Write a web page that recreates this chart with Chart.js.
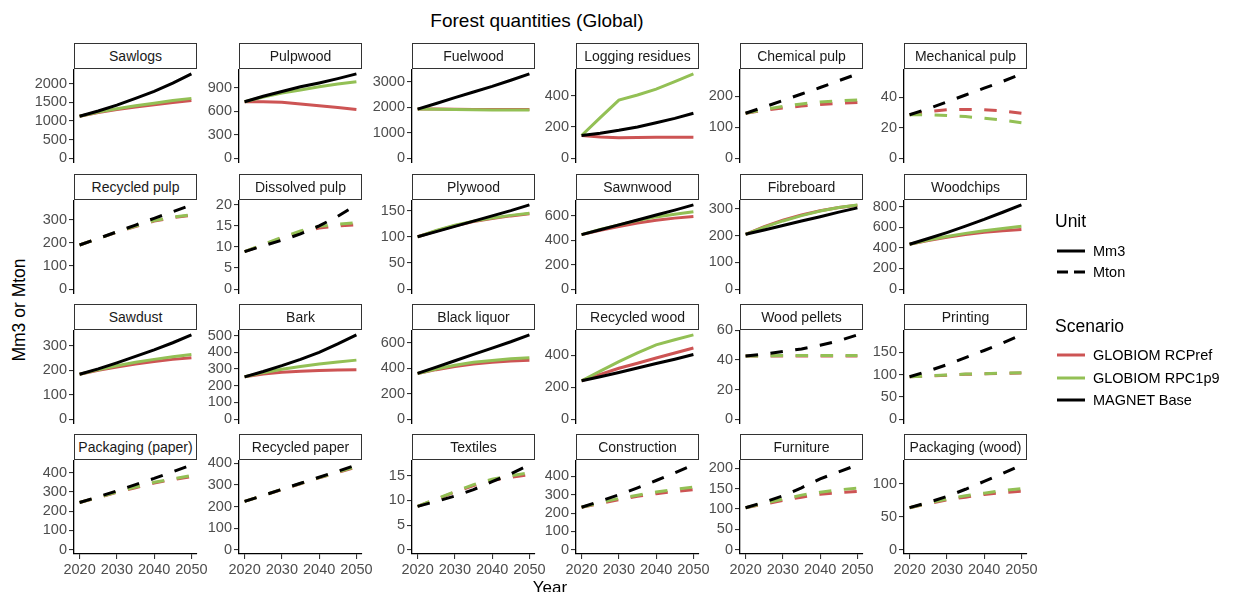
<!DOCTYPE html>
<html>
<head>
<meta charset="utf-8">
<script src="https://cdn.jsdelivr.net/npm/chart.js@4.4.1/dist/chart.umd.min.js"></script>
<style>
  html, body { margin: 0; padding: 0; background: #fff; }
  body { width: 1236px; height: 592px; overflow: hidden; position: relative;
         font-family: "Liberation Sans", Arial, sans-serif; }
  canvas.panel { position: absolute; }
  .strip { position: absolute; box-sizing: border-box; border: 1.3px solid #333; background: #fff;
           font-size: 14px; color: #1a1a1a; text-align: center; white-space: nowrap; z-index: 2; }
  .txt { position: absolute; line-height: 1; white-space: nowrap; color: #000; }
  svg.key { position: absolute; }
</style>
</head>
<body>
<script>
// ---- data -------------------------------------------------------------
const years = [2020, 2025, 2030, 2035, 2040, 2045, 2050];
const xTicks = [2020, 2030, 2040, 2050];

const products = [
  "Sawlogs", "Pulpwood", "Fuelwood", "Logging residues", "Chemical pulp", "Mechanical pulp",
  "Recycled pulp", "Dissolved pulp", "Plywood", "Sawnwood", "Fibreboard", "Woodchips",
  "Sawdust", "Bark", "Black liquor", "Recycled wood", "Wood pellets", "Printing",
  "Packaging (paper)", "Recycled paper", "Textiles", "Construction", "Furniture", "Packaging (wood)"
];

const units = [
  "Mm3", "Mm3", "Mm3", "Mm3", "Mton", "Mton",
  "Mton", "Mton", "Mm3", "Mm3", "Mm3", "Mm3",
  "Mm3", "Mm3", "Mm3", "Mm3", "Mton", "Mton",
  "Mton", "Mton", "Mton", "Mton", "Mton", "Mton"
];

const yTicks = [
  [0, 500, 1000, 1500, 2000], [0, 300, 600, 900], [0, 1000, 2000, 3000], [0, 200, 400], [0, 100, 200], [0, 20, 40],
  [0, 100, 200, 300], [0, 5, 10, 15, 20], [0, 50, 100, 150], [0, 200, 400, 600], [0, 100, 200, 300], [0, 200, 400, 600, 800],
  [0, 100, 200, 300], [0, 100, 200, 300, 400, 500], [0, 200, 400, 600], [0, 200, 400], [0, 20, 40, 60], [0, 50, 100, 150],
  [0, 100, 200, 300, 400], [0, 100, 200, 300, 400], [0, 5, 10, 15], [0, 100, 200, 300, 400], [0, 50, 100, 150, 200], [0, 50, 100]
];

const globiomRCPref = [
  [1130, 1230, 1310, 1380, 1440, 1500, 1550],
  [720, 720, 712, 690, 668, 645, 620],
  [1920, 1920, 1915, 1905, 1900, 1900, 1905],
  [145, 136, 130, 132, 134, 134, 133],
  [145, 154, 162, 168, 173, 177, 180],
  [28.5, 30.5, 31.8, 32, 31.8, 31, 29.5],
  [190, 218, 245, 270, 293, 308, 318],
  [8.9, 10.5, 12.1, 13.5, 14.5, 15.0, 15.3],
  [100, 111, 121, 129, 135, 140, 144],
  [445, 480, 512, 540, 562, 580, 594],
  [205, 234, 258, 277, 293, 305, 314],
  [435, 470, 502, 528, 550, 565, 578],
  [183, 199, 213, 225, 235, 244, 251],
  [253, 270, 280, 287, 291, 294, 296],
  [360, 390, 415, 435, 448, 458, 465],
  [240, 280, 318, 350, 382, 414, 445],
  [42.7, 42.7, 42.8, 42.8, 42.8, 42.8, 42.8],
  [95, 96.5, 98.5, 100.5, 101.5, 102.5, 103.5],
  [245, 271, 298, 322, 346, 364, 380],
  [224, 251, 279, 306, 333, 358, 383],
  [8.8, 10.2, 11.7, 13.0, 14.1, 14.7, 15.2],
  [232, 253, 274, 292, 306, 318, 328],
  [103, 112, 121, 129, 136, 140, 143],
  [64, 70, 76, 80, 84, 87, 89]
];

const globiomRPC1p9 = [
  [1130, 1240, 1330, 1410, 1480, 1550, 1610],
  [720, 780, 830, 870, 910, 945, 975],
  [1920, 1915, 1905, 1895, 1890, 1890, 1890],
  [145, 260, 372, 405, 442, 490, 540],
  [145, 157, 167, 175, 181, 185, 188],
  [28.5, 28.5, 28, 27.3, 26.3, 25, 23.3],
  [190, 218, 246, 272, 296, 310, 321],
  [8.9, 10.6, 12.3, 13.8, 14.9, 15.4, 15.8],
  [100, 112, 122, 130, 136, 141, 145],
  [445, 488, 525, 560, 590, 612, 632],
  [205, 232, 255, 275, 292, 305, 315],
  [435, 475, 510, 540, 565, 588, 609],
  [183, 202, 218, 232, 244, 255, 264],
  [253, 278, 298, 315, 330, 342, 353],
  [360, 395, 425, 448, 463, 475, 483],
  [240, 300, 360, 415, 465, 497, 527],
  [42.7, 42.8, 43, 43, 43, 43, 43],
  [95, 97, 99, 101, 102, 103, 104],
  [245, 272, 300, 325, 350, 368, 385],
  [224, 252, 280, 307, 334, 360, 386],
  [8.8, 10.3, 11.8, 13.2, 14.3, 15.0, 15.6],
  [232, 257, 280, 298, 315, 330, 342],
  [103, 114, 124, 134, 141, 147, 151],
  [64, 71, 77, 82, 86, 90, 93]
];

const magnetBase = [
  [1130, 1270, 1430, 1610, 1800, 2020, 2270],
  [720, 790, 850, 910, 960, 1015, 1075],
  [1920, 2140, 2370, 2590, 2810, 3050, 3300],
  [145, 160, 178, 200, 227, 255, 288],
  [145, 165, 186, 207, 228, 250, 272],
  [28.5, 32.5, 37, 41.5, 46, 50.5, 55.4],
  [190, 218, 247, 276, 305, 334, 363],
  [8.9, 10.3, 11.6, 13.1, 15.0, 17.3, 20.0],
  [100, 110, 120, 130, 140, 150, 161],
  [445, 485, 525, 565, 605, 645, 688],
  [205, 221, 238, 255, 271, 288, 304],
  [435, 490, 548, 610, 675, 745, 816],
  [183, 205, 230, 256, 283, 312, 344],
  [253, 285, 320, 358, 400, 450, 504],
  [360, 410, 460, 510, 560, 610, 664],
  [240, 265, 292, 320, 348, 375, 404],
  [42.7, 44, 45.7, 47.5, 50, 53, 57],
  [95, 108, 122, 138, 154, 171, 189],
  [245, 275, 305, 338, 370, 405, 440],
  [224, 252, 280, 308, 336, 364, 393],
  [8.8, 9.8, 10.9, 12.2, 13.8, 15.4, 17.2],
  [232, 265, 300, 338, 378, 420, 463],
  [103, 117, 132, 152, 174, 191, 208],
  [64, 72, 81, 92, 104, 116, 129]
];

const scenarioNames = ["GLOBIOM RCPref", "GLOBIOM RPC1p9", "MAGNET Base"];
const unitNames = ["Mm3", "Mton"];

// ---- styling ------------------------------------------------------------
const COL_RED = "#cd5454";
const COL_GREEN = "#93c055";
const COL_BLACK = "#000000";
const LINE_W = 3;
const DASH = [12.5, 12.5];
const FONT = "'Liberation Sans', Arial, sans-serif";
const AXIS_TEXT = "#4d4d4d";
const TICK_SIZE = 14.5;

// facet grid geometry
const colLeft = [74, 239, 412, 576, 740, 904];
const stripTop = [43, 174, 304, 434];
const PLOT_W = 123, PLOT_H = 94, STRIP_H = 26;
const PAD_L = 44, PAD_T = 10, PAD_R = 22;

function addText(str, x, y, size, opts = {}) {
  const d = document.createElement("div");
  d.className = "txt";
  d.textContent = str;
  d.style.fontSize = size + "px";
  d.style.left = x + "px";
  d.style.top = y + "px";
  d.style.transform = opts.transform || "translateY(-50%)";
  if (opts.color) d.style.color = opts.color;
  document.body.appendChild(d);
  return d;
}

function panel(i) {
  const r = Math.floor(i / 6), c = i % 6;
  const bottomRow = r === 3;
  const plotTop = stripTop[r] + STRIP_H;
  const axisH = bottomRow ? 30 : 0;
  const padB = bottomRow ? 0 : 10;

  const cv = document.createElement("canvas");
  cv.className = "panel";
  const w = PAD_L + PLOT_W + PAD_R, h = PAD_T + PLOT_H + axisH + padB;
  cv.width = w; cv.height = h;
  cv.style.width = w + "px"; cv.style.height = h + "px";
  cv.style.left = (colLeft[c] - PAD_L) + "px";
  cv.style.top = (plotTop - PAD_T) + "px";
  document.body.appendChild(cv);

  const strip = document.createElement("div");
  strip.className = "strip";
  strip.style.left = colLeft[c] + "px";
  strip.style.top = stripTop[r] + "px";
  strip.style.width = PLOT_W + "px";
  strip.style.height = STRIP_H + "px";
  strip.style.lineHeight = (STRIP_H - 2) + "px";
  strip.textContent = products[i];
  document.body.appendChild(strip);

  const dashed = units[i] === "Mton";
  const series = [
    { vals: magnetBase[i], color: COL_BLACK, order: 0 },
    { vals: globiomRPC1p9[i], color: COL_GREEN, order: 1 },
    { vals: globiomRCPref[i], color: COL_RED, order: 2 }
  ];
  const top = Math.max(...magnetBase[i], ...globiomRPC1p9[i], ...globiomRCPref[i]);
  const span = top - 0;

  new Chart(cv, {
    type: "line",
    data: {
      datasets: series.map(s => ({
        data: years.map((yr, k) => ({ x: yr, y: s.vals[k] })),
        borderColor: s.color,
        borderWidth: LINE_W,
        borderDash: dashed ? DASH : [],
        pointRadius: 0,
        tension: 0,
        fill: false,
        order: s.order
      }))
    },
    options: {
      responsive: false,
      animation: false,
      devicePixelRatio: 1,
      layout: { padding: { top: PAD_T, right: PAD_R, bottom: padB, left: 0 } },
      plugins: { legend: { display: false }, tooltip: { enabled: false }, title: { display: false } },
      scales: {
        x: {
          type: "linear",
          display: bottomRow,
          min: 2020 - 1.5,
          max: 2050 + 1.5,
          afterBuildTicks: s => { s.ticks = xTicks.map(v => ({ value: v })); },
          afterFit: s => { s.height = axisH; },
          ticks: { callback: v => String(v), color: AXIS_TEXT, font: { family: FONT, size: TICK_SIZE }, padding: 2, maxRotation: 0, autoSkip: false },
          grid: { drawOnChartArea: false, drawTicks: true, tickLength: 5, color: "#333", lineWidth: 1.1 },
          border: { display: true, color: "#000", width: 1.3 }
        },
        y: {
          type: "linear",
          min: -0.05 * span,
          max: top + 0.05 * span,
          afterBuildTicks: s => { s.ticks = yTicks[i].map(v => ({ value: v })); },
          afterFit: s => { s.width = PAD_L; },
          ticks: { callback: v => String(v), color: AXIS_TEXT, font: { family: FONT, size: TICK_SIZE }, padding: 2, autoSkip: false },
          grid: { drawOnChartArea: false, drawTicks: true, tickLength: 5, color: "#333", lineWidth: 1.1 },
          border: { display: true, color: "#000", width: 1.3 }
        }
      }
    }
  });
}

for (let i = 0; i < products.length; i++) panel(i);

// ---- titles ------------------------------------------------------------
addText("Forest quantities (Global)", 537, 20, 19, { transform: "translate(-50%, -50%)" });
addText("Year", 550, 587, 17, { transform: "translate(-50%, -50%)" });
addText("Mm3 or Mton", 20, 310, 17.5, { transform: "translate(-50%, -50%) rotate(-90deg)" });

// ---- legend ------------------------------------------------------------
function keyLine(x, y, color, dash) {
  const ns = "http://www.w3.org/2000/svg";
  const svg = document.createElementNS(ns, "svg");
  svg.setAttribute("class", "key");
  svg.setAttribute("width", "30");
  svg.setAttribute("height", "10");
  svg.style.left = x + "px";
  svg.style.top = (y - 5) + "px";
  const ln = document.createElementNS(ns, "line");
  ln.setAttribute("x1", "1"); ln.setAttribute("x2", "29");
  ln.setAttribute("y1", "5"); ln.setAttribute("y2", "5");
  ln.setAttribute("stroke", color);
  ln.setAttribute("stroke-width", LINE_W);
  if (dash) ln.setAttribute("stroke-dasharray", "11 6");
  svg.appendChild(ln);
  document.body.appendChild(svg);
}

addText("Unit", 1055, 222, 17.5);
const unitY = [251, 272];
unitNames.forEach((u, k) => {
  keyLine(1056, unitY[k], COL_BLACK, k === 1);
  addText(u, 1093, unitY[k], 14.5);
});

addText("Scenario", 1055, 327, 17.5);
const scenY = [355, 378, 400];
const scenCol = [COL_RED, COL_GREEN, COL_BLACK];
scenarioNames.forEach((s, k) => {
  keyLine(1056, scenY[k], scenCol[k], false);
  addText(s, 1093, scenY[k], 14.5);
});
</script>
</body>
</html>
